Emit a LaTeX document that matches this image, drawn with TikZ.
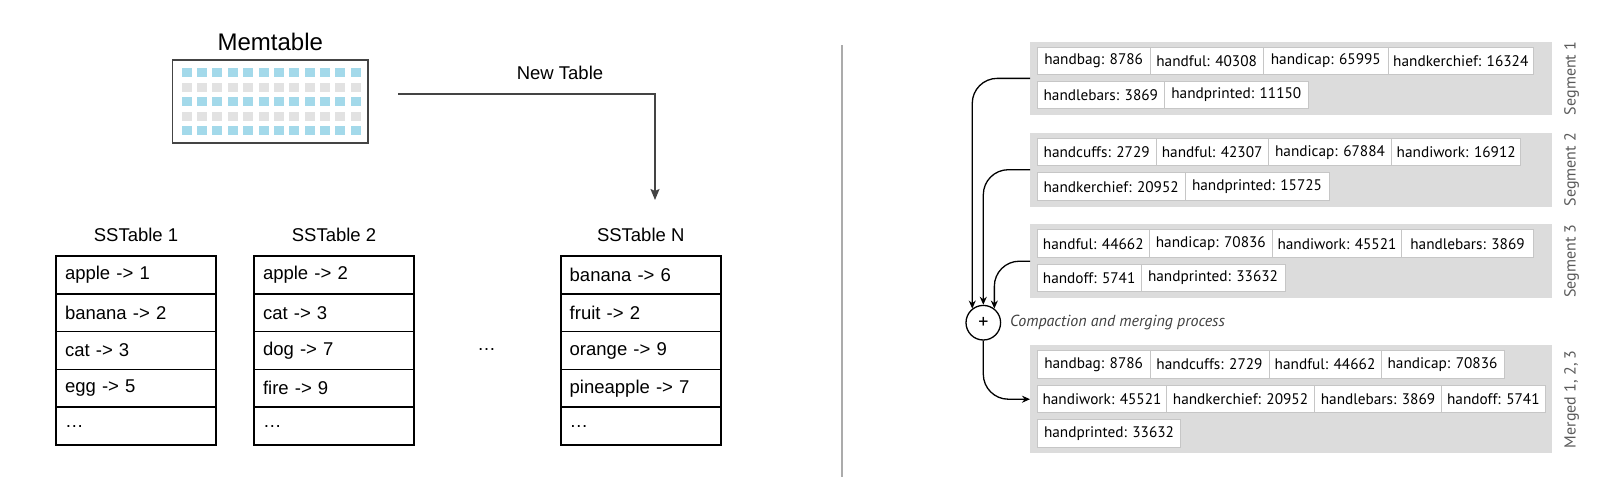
\documentclass[tikz,border=0pt]{standalone}
\usepackage{fontspec}
\setmainfont{Liberation Sans}
\newfontfamily\segfont{PT Sans}
\usetikzlibrary{positioning,arrows.meta}
\definecolor{memblue}{HTML}{A3D9EA}
\definecolor{memgray}{HTML}{E2E2E2}
\definecolor{seggray}{HTML}{DCDCDC}
\definecolor{cellline}{HTML}{C6C6C6}
\definecolor{flowgray}{HTML}{444444}
\tikzset{
  sstitle/.style={font=\fontsize{18.5pt}{22pt}\selectfont},
  ssrow/.style={draw, line width=1.6pt, outer sep=0pt, minimum width=160pt,
    minimum height=37.8pt, text width=142pt, inner xsep=9pt, align=left,
    font=\fontsize{18.5pt}{22pt}\selectfont},
  flow/.style={draw=flowgray, line width=1.5pt, -{Stealth[length=11pt,width=9pt,inset=2pt]}},
  segment/.style={fill=seggray, minimum width=521.7pt, outer sep=0pt, inner sep=0pt},
  cell/.style={draw=cellline, fill=white, line width=1pt, outer sep=0pt, inner xsep=2pt,
    minimum height=27.5pt, font=\segfont\fontsize{15.3pt}{18pt}\selectfont},
  seglabel/.style={rotate=90, text=black!65, font=\segfont\fontsize{16pt}{19pt}\selectfont},
  mergeflow/.style={line width=1.3pt, rounded corners=25pt, -{Stealth[length=8pt,width=7pt]}},
}
\begin{document}
\begin{tikzpicture}[x=1pt,y=-1pt]
  \useasboundingbox (0,0) rectangle (1600,491);

  \node[draw=flowgray, line width=1.5pt, minimum width=195.3pt, minimum height=83pt] (memtable) at (270.3,101.5) {};
  \foreach \r/\c in {0/memblue,1/memgray,2/memblue,3/memgray,4/memblue}
    \foreach \k in {0,...,11}
      \fill[\c] ({181.7+15.36*\k},{68.3+14.4*\r}) rectangle ++(10,9);
  \node[font=\fontsize{24pt}{28pt}\selectfont] (memlabel) at (270.3,42) {Memtable};

  \coordinate (flushstart) at (398,94);
  \coordinate (flushend) at (655,200);
  \draw[flow] (flushstart) -| (flushend);
  \node[sstitle] (newtable) at (560,73) {New Table};

  \node[sstitle] (ss1) at (136,235) {SSTable 1};
  \node[ssrow] (ss1r1) at (136,274.9) {apple -> 1};
  \node[ssrow, below=0pt of ss1r1] (ss1r2) {banana -> 2};
  \node[ssrow, below=0pt of ss1r2] (ss1r3) {cat -> 3};
  \node[ssrow, below=0pt of ss1r3] (ss1r4) {egg -> 5};
  \node[ssrow, below=0pt of ss1r4] (ss1r5) {…};

  \node[sstitle] (ss2) at (334,235) {SSTable 2};
  \node[ssrow] (ss2r1) at (334,274.9) {apple -> 2};
  \node[ssrow, below=0pt of ss2r1] (ss2r2) {cat -> 3};
  \node[ssrow, below=0pt of ss2r2] (ss2r3) {dog -> 7};
  \node[ssrow, below=0pt of ss2r3] (ss2r4) {fire -> 9};
  \node[ssrow, below=0pt of ss2r4] (ss2r5) {…};

  \node[sstitle] (more) at (486.7,350) {…};

  \node[sstitle] (ssn) at (640.7,235) {SSTable N};
  \node[ssrow] (ssnr1) at (640.7,274.9) {banana -> 6};
  \node[ssrow, below=0pt of ssnr1] (ssnr2) {fruit -> 2};
  \node[ssrow, below=0pt of ssnr2] (ssnr3) {orange -> 9};
  \node[ssrow, below=0pt of ssnr3] (ssnr4) {pineapple -> 7};
  \node[ssrow, below=0pt of ssnr4] (ssnr5) {…};

  \draw[line width=2pt, draw=black!33] (841.7,45) -- (841.7,477);

  \node[segment, minimum height=73.3pt] (seg1) at (1290.85,78.35) {};
  \node[segment, minimum height=74pt] (seg2) at (1290.85,169.7) {};
  \node[segment, minimum height=74.3pt] (seg3) at (1290.85,261.2) {};
  \node[segment, minimum height=108.3pt] (merged) at (1290.85,399.2) {};

  \node[cell, minimum width=112.7pt, anchor=west] (s1a) at (1037.3,60.8) {handbag: 8786};
  \node[cell, minimum width=113.3pt, right=0pt of s1a] (s1b) {handful: 40308};
  \node[cell, minimum width=125pt, right=0pt of s1b] (s1c) {handicap: 65995};
  \node[cell, minimum width=145pt, right=0pt of s1c] (s1d) {handkerchief: 16324};
  \node[cell, minimum width=127pt, anchor=west] (s1e) at (1037.3,95) {handlebars: 3869};
  \node[cell, minimum width=144pt, right=0pt of s1e] (s1f) {handprinted: 11150};

  \node[cell, minimum width=118.7pt, anchor=west] (s2a) at (1037.3,152.2) {handcuffs: 2729};
  \node[cell, minimum width=112.3pt, right=0pt of s2a] (s2b) {handful: 42307};
  \node[cell, minimum width=123.4pt, right=0pt of s2b] (s2c) {handicap: 67884};
  \node[cell, minimum width=129pt, right=0pt of s2c] (s2d) {handiwork: 16912};
  \node[cell, minimum width=147.7pt, anchor=west] (s2e) at (1037.3,186.7) {handkerchief: 20952};
  \node[cell, minimum width=144pt, right=0pt of s2e] (s2f) {handprinted: 15725};

  \node[cell, minimum width=112pt, anchor=west] (s3a) at (1037.3,243.7) {handful: 44662};
  \node[cell, minimum width=123pt, right=0pt of s3a] (s3b) {handicap: 70836};
  \node[cell, minimum width=129.4pt, right=0pt of s3b] (s3c) {handiwork: 45521};
  \node[cell, minimum width=131.6pt, right=0pt of s3c] (s3d) {handlebars: 3869};
  \node[cell, minimum width=103.7pt, anchor=west] (s3e) at (1037.3,277.8) {handoff: 5741};
  \node[cell, minimum width=144pt, right=0pt of s3e] (s3f) {handprinted: 33632};

  \node[cell, minimum width=112.7pt, anchor=west] (m1) at (1037.3,364.5) {handbag: 8786};
  \node[cell, minimum width=119pt, right=0pt of m1] (m2) {handcuffs: 2729};
  \node[cell, minimum width=112pt, right=0pt of m2] (m3) {handful: 44662};
  \node[cell, minimum width=123pt, right=0pt of m3] (m4) {handicap: 70836};
  \node[cell, minimum width=129.4pt, anchor=west] (m5) at (1037.3,398.8) {handiwork: 45521};
  \node[cell, minimum width=147.6pt, right=0pt of m5] (m6) {handkerchief: 20952};
  \node[cell, minimum width=127.4pt, right=0pt of m6] (m7) {handlebars: 3869};
  \node[cell, minimum width=103.3pt, right=0pt of m7] (m8) {handoff: 5741};
  \node[cell, minimum width=143.4pt, anchor=west] (m9) at (1037.3,433.7) {handprinted: 33632};

  \node[seglabel] (seg1label) at (1571.7,78.35) {Segment 1};
  \node[seglabel] (seg2label) at (1571.7,169.7) {Segment 2};
  \node[seglabel] (seg3label) at (1571.7,261.2) {Segment 3};
  \node[seglabel] (mergedlabel) at (1571.7,399.2) {Merged 1, 2, 3};

  \node[circle, draw, line width=1.3pt, minimum size=34.6pt, inner sep=0pt,
    font=\segfont\fontsize{20pt}{20pt}\selectfont] (merge) at (983.3,322.7) {+};
  \node[anchor=west, text=black!75, font=\segfont\itshape\fontsize{16pt}{19pt}\selectfont]
    (mergelabel) at (1006.7,322.7) {Compaction and merging process};

  \draw[mergeflow] (seg1.west) -| (merge.128);
  \draw[mergeflow] (seg2.west) -| (merge.north);
  \draw[mergeflow] (seg3.west) -| (merge.52);
  \draw[mergeflow] (merge.south) |- (merged.west);
\end{tikzpicture}
\end{document}
